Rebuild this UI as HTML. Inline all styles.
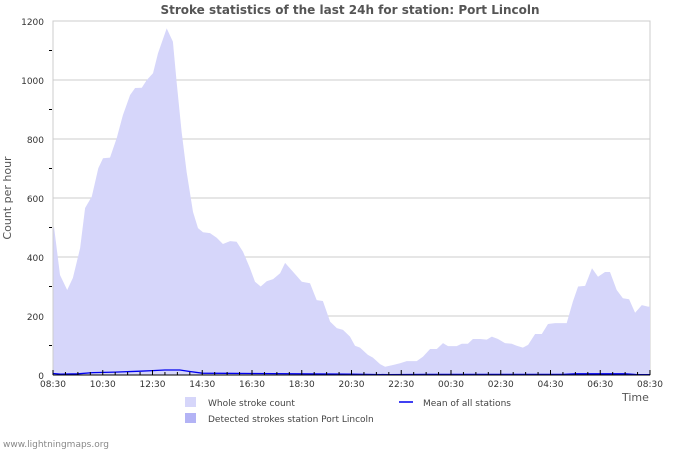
<!DOCTYPE html>
<html><head><meta charset="utf-8"><style>
body{margin:0;background:#fff;width:700px;height:450px;overflow:hidden;font-family:"Liberation Sans","DejaVu Sans",sans-serif}
text{font-family:"DejaVu Sans","Liberation Sans",sans-serif}
</style></head><body>
<svg id="chart" width="700" height="450">
<text x="350" y="14" text-anchor="middle" font-size="12" font-weight="bold" fill="#555">Stroke statistics of the last 24h for station: Port Lincoln</text>
<g id="grid"></g>
<g id="series"></g>
<g id="axes"></g>
<text x="0" y="0" transform="translate(11,198) rotate(-90)" text-anchor="middle" font-size="11" fill="#555">Count per hour</text>
<text x="622" y="401" font-size="11" fill="#555">Time</text>
<g>
<rect x="185" y="397" width="11" height="10" fill="#d6d6fa"/>
<text x="208" y="406" font-size="9" fill="#444">Whole stroke count</text>
<rect x="185" y="413" width="11" height="10" fill="#b3b3f5"/>
<text x="208" y="422" font-size="9" fill="#444">Detected strokes station Port Lincoln</text>
<line x1="399" y1="402" x2="413" y2="402" stroke="#0000ee" stroke-width="1.5"/>
<text x="423" y="406" font-size="9" fill="#444">Mean of all stations</text>
</g>
<text x="3" y="447" font-size="9" fill="#888">www.lightningmaps.org</text>
</svg>
<script>
const xLabels=["08:30","10:30","12:30","14:30","16:30","18:30","20:30","22:30","00:30","02:30","04:30","06:30","08:30"];
const yTicks=[0,200,400,600,800,1000,1200];
const wholeHours=[0,0.04,0.28,0.57,0.80,1.09,1.29,1.56,1.82,2.01,2.29,2.56,2.81,3.10,3.30,3.57,3.77,4.02,4.22,4.57,4.82,4.97,5.17,5.37,5.63,5.83,6.03,6.31,6.58,6.83,7.12,7.38,7.64,7.92,8.12,8.35,8.59,8.85,9.13,9.33,9.65,10.00,10.33,10.60,10.85,11.14,11.41,11.66,11.94,12.14,12.34,12.66,12.86,13.15,13.35,13.67,13.95,14.22,14.62,14.87,15.16,15.43,15.68,15.88,16.23,16.43,16.68,16.88,17.17,17.44,17.64,17.89,18.17,18.44,18.64,18.89,19.10,19.38,19.65,19.90,20.18,20.65,20.90,21.11,21.39,21.67,21.91,22.19,22.39,22.66,22.91,23.16,23.40,23.67,23.92,24.0];
const wholeValues=[490,503,339,288,329,430,566,605,701,735,737,803,881,949,973,974,1000,1023,1091,1175,1130,994,825,689,553,498,484,481,465,444,454,452,418,362,316,300,318,325,345,380,350,316,311,254,251,181,159,153,130,99,93,68,59,37,28,34,40,47,47,62,88,88,108,98,98,106,106,122,122,120,130,122,108,106,99,93,102,139,139,173,176,176,249,300,302,362,333,349,349,288,260,257,211,237,232,232];
const meanHours=[0,0.3,1.0,1.6,2.5,3.5,4.0,4.5,5.1,5.5,6.0,8.0,12.0,13.5,15.0,20.5,21.0,23.0,23.5,24.0];
const meanValues=[5,3,4,8,10,13,15,17,17,12,6,5,3,1,2,2,4,4,1,1];
const X0=53,X1=650,Y0=375,Y1=21;
const sx=h=>X0+h*(X1-X0)/24;
const sy=v=>Y0-v*(Y0-Y1)/1200;
const NS="http://www.w3.org/2000/svg";
function mk(tag,attrs,parent){const e=document.createElementNS(NS,tag);for(const k in attrs)e.setAttribute(k,attrs[k]);parent.appendChild(e);return e;}
const grid=document.getElementById('grid'),series=document.getElementById('series'),axes=document.getElementById('axes');
mk('rect',{x:X0,y:Y1,width:X1-X0,height:Y0-Y1,fill:'none',stroke:'#ccc'},grid);
yTicks.forEach(v=>{
 const l=mk('line',{x1:X0,x2:X1,y1:sy(v),y2:sy(v),stroke:'#ccc'},grid);
 
 
 const t=mk('text',{x:X0-9,y:sy(v)+4,'text-anchor':'end','font-size':'9',fill:'#333'},axes);
 t.textContent=v;
 
 
});
for(let v=100;v<1200;v+=200){mk('line',{x1:X0-4,x2:X0-1,y1:sy(v),y2:sy(v),stroke:'#000'},axes);}
let n=Math.min(wholeHours.length,wholeValues.length);
let d='M'+sx(wholeHours[0])+','+Y0;
for(let i=0;i<n;i++)d+=' L'+sx(wholeHours[i]).toFixed(1)+','+sy(wholeValues[i]).toFixed(1);
d+=' L'+sx(wholeHours[n-1])+','+Y0+' Z';
const area=mk('path',{d:d,fill:'#d6d6fa'},series);


let md='';
meanHours.forEach((h,i)=>{md+=(i?' L':'M')+sx(h).toFixed(1)+','+sy(meanValues[i]).toFixed(1);});
const ml=mk('path',{d:md,fill:'none',stroke:'#0000ee','stroke-width':'1.3'},series);


mk('line',{x1:X0,x2:X1,y1:Y0,y2:Y0,stroke:'#000'},axes);
mk('line',{x1:X0,x2:X0,y1:Y1,y2:Y0,stroke:'#ccc'},axes);
for(let i=0;i<=48;i++){const x=sx(i/2);mk('line',{x1:x,x2:x,y1:i%4==0?Y0-5:Y0-3,y2:Y0,stroke:'#000'},axes);}
xLabels.forEach((s,i)=>{
 const t=mk('text',{x:sx(i*2),y:Y0+12,'text-anchor':'middle','font-size':'9',fill:'#333'},axes);
 t.textContent=s;
 
 
});
</script>
</body></html>
